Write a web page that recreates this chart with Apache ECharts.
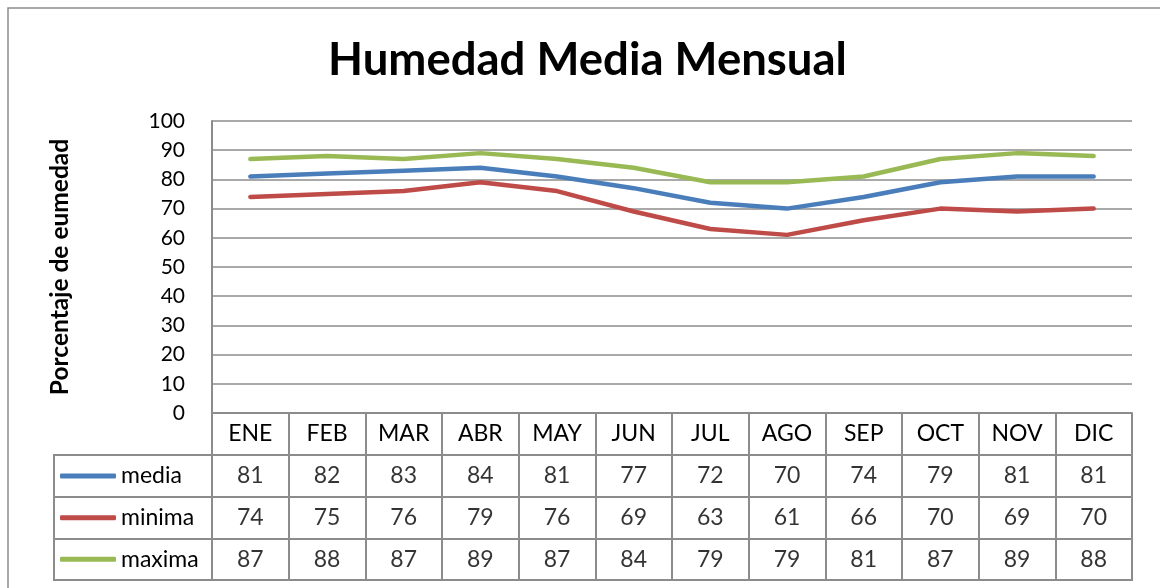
<!DOCTYPE html>
<html>
<head>
<meta charset="utf-8">
<script src="https://cdn.jsdelivr.net/npm/echarts@6/dist/echarts.min.js"></script>
<style>
html,body{margin:0;padding:0;background:#fff;}
#chart{width:1160px;height:588px;}
</style>
</head>
<body>
<div id="chart"></div>
<script>
const months = ['ENE','FEB','MAR','ABR','MAY','JUN','JUL','AGO','SEP','OCT','NOV','DIC'];
const media  = [81,82,83,84,81,77,72,70,74,79,81,81];
const minima = [74,75,76,79,76,69,63,61,66,70,69,70];
const maxima = [87,88,87,89,87,84,79,79,81,87,89,88];
const seriesNames = ['media','minima','maxima'];
const seriesColors = ['#4A7EBB','#BE4B48','#98B954'];
const yMin = 0, yMax = 100, yStep = 10;
const titleText = 'Humedad Media Mensual';
const yAxisName = 'Porcentaje de eumedad';

const FONT = 'Lato';
const GRAY = '#8c8c8c';
const rows = [media, minima, maxima];

const tableCells = [];
rows.forEach((vals, r) => vals.forEach((v, c) => tableCells.push([c, r, v])));

const chart = echarts.init(document.getElementById('chart'), null, {renderer:'canvas'});

const legends = seriesNames.map((name, i) => ({
  data: [name],
  left: 60,
  top: 476 + i * 41.67 - 13,
  orient: 'horizontal',
  icon: 'roundRect',
  itemWidth: 56,
  itemHeight: 5,
  padding: 0,
  selectedMode: false,
  textStyle: {fontFamily: FONT, fontSize: 23, color: '#000', lineHeight: 26}
}));

const option = {
  animation: false,
  textStyle: {fontFamily: FONT},
  title: {
    text: titleText,
    left: 323,
    top: 32,
    textStyle: {fontFamily: FONT, fontWeight: 'bold', fontSize: 45.5, color: '#000'}
  },
  legend: legends,
  graphic: [{
    type: 'rect', z: -10, silent: true,
    shape: {x: 8, y: 8, width: 1300, height: 700},
    style: {fill: 'none', stroke: GRAY, lineWidth: 1.5}
  }],
  grid: [
    {left: 212, top: 121, width: 920, height: 292},
    {left: 212, top: 455, width: 920, height: 125, show: true, borderColor: GRAY, borderWidth: 2, backgroundColor: 'transparent'},
    {left: 54, top: 455, width: 158, height: 125, show: true, borderColor: GRAY, borderWidth: 2, backgroundColor: 'transparent'}
  ],
  xAxis: [
    {
      gridIndex: 0, type: 'category', data: months, boundaryGap: true,
      axisLine: {show: true, lineStyle: {color: GRAY, width: 2}},
      axisTick: {show: true, interval: 0, length: 42, lineStyle: {color: GRAY, width: 2}},
      axisLabel: {interval: 0, fontFamily: FONT, fontSize: 23, color: '#000', margin: 9, lineHeight: 24},
      splitLine: {show: false}
    },
    {
      gridIndex: 1, type: 'category', data: months, boundaryGap: true,
      axisLine: {show: false}, axisTick: {show: false}, axisLabel: {show: false},
      splitLine: {show: true, interval: 0, lineStyle: {color: GRAY, width: 2}}
    },
    {
      gridIndex: 2, type: 'category', data: [''], boundaryGap: true, show: false
    }
  ],
  yAxis: [
    {
      gridIndex: 0, type: 'value', min: yMin, max: yMax, interval: yStep,
      name: yAxisName, nameLocation: 'middle', nameGap: 139,
      nameTextStyle: {fontFamily: FONT, fontWeight: 'bold', fontSize: 24.5, color: '#000'},
      axisLine: {show: true, lineStyle: {color: GRAY, width: 2}},
      axisTick: {show: false},
      axisLabel: {fontFamily: FONT, fontSize: 21, color: '#000', margin: 27},
      splitLine: {show: true, lineStyle: {color: GRAY, width: 1.5}}
    },
    {
      gridIndex: 1, type: 'category', data: seriesNames, inverse: true, boundaryGap: true,
      axisLine: {show: false}, axisTick: {show: false}, axisLabel: {show: false},
      splitLine: {show: true, interval: 0, lineStyle: {color: GRAY, width: 2}}
    },
    {
      gridIndex: 2, type: 'category', data: seriesNames, inverse: true, boundaryGap: true,
      axisLine: {show: false}, axisTick: {show: false}, axisLabel: {show: false},
      splitLine: {show: true, interval: 0, lineStyle: {color: GRAY, width: 2}}
    }
  ],
  series: [
    ...seriesNames.map((name, i) => ({
      name: name, type: 'line', xAxisIndex: 0, yAxisIndex: 0,
      data: rows[i], symbol: 'none', showSymbol: false,
      color: seriesColors[i],
      lineStyle: {width: 4.5, color: seriesColors[i], cap: 'round', join: 'round'},
      emphasis: {disabled: true}
    })),
    {
      name: 'tabla', type: 'scatter', xAxisIndex: 1, yAxisIndex: 1,
      data: tableCells, symbolSize: 0, silent: true,
      label: {show: true, position: 'inside', formatter: p => String(p.value[2]),
              fontFamily: FONT, fontSize: 23, color: '#000'}
    }
  ]
};
chart.setOption(option);
</script>
</body>
</html>
